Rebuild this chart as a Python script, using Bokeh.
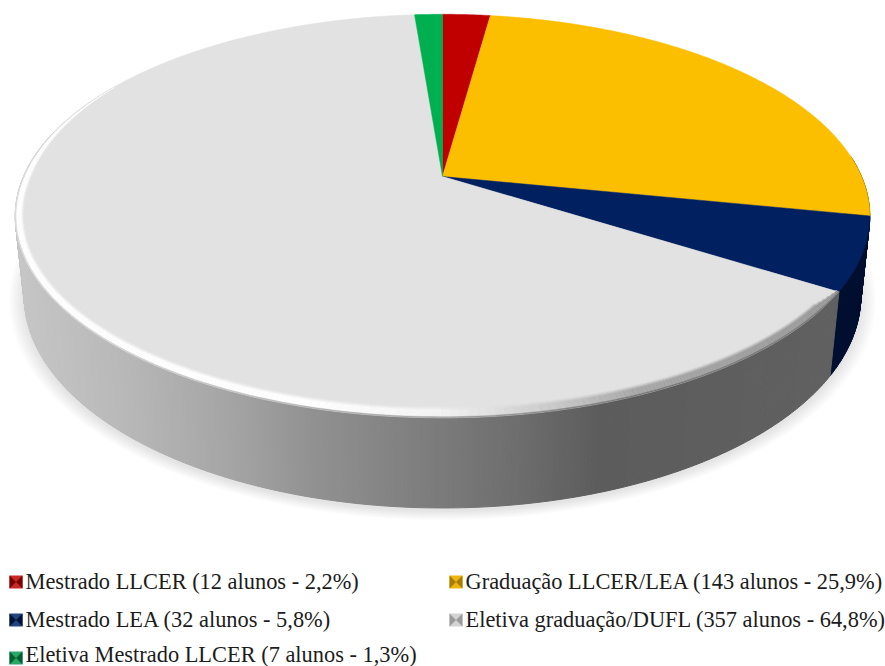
import numpy as np
from bokeh.plotting import figure
from bokeh.models import ColumnDataSource, Range1d
from bokeh.core.properties import value
from bokeh.embed import file_html
from bokeh.resources import INLINE

categories = ["Mestrado LLCER", "Graduação LLCER/LEA", "Mestrado LEA",
              "Eletiva graduação/DUFL", "Eletiva Mestrado LLCER"]
alunos = [12, 143, 32, 357, 7]
percent = ["2,2", "25,9", "5,8", "64,8", "1,3"]
top_colors = ["#C00000", "#FCBF00", "#002060", "#E2E2E2", "#00B050"]
side_colors = ["#600000", "#7F6000", "#000F30", None, "#005828"]
legend_dark = ["#7a0000", "#a87c00", "#001238", "#9a9a9a", "#006030"]
legend_light = ["#c82828", "#eeb410", "#24447f", "#d4d4d4", "#28a868"]
grey_stop_x = [15, 120, 230, 300, 420, 520, 600, 830]
grey_stop_v = [198, 184, 164, 147, 126, 109, 92, 96]

CX, CY = 442.0, 176.0
A, B, K = 419.0, 194.0, 0.196
CY2, A2, B2 = 255.0, 410.5, 204.0


def hexc(c):
    c = np.clip(np.round(c), 0, 255).astype(int)
    return "#%02x%02x%02x" % tuple(c)


def lerp(a, b, t):
    return a + (b - a) * t


def project(theta, cy=CY, a=A, b=B, k=K):
    u, v = np.sin(theta), np.cos(theta)
    w = 1 + k * v
    return CX + a * u / w, cy - b * v / w


vals = np.array(alunos, dtype=float)
edges = np.concatenate([[0], np.cumsum(vals)]) / vals.sum() * 2 * np.pi

p = figure(width=885, height=666, output_backend="svg", toolbar_location=None,
           x_range=Range1d(0, 885), y_range=Range1d(666, 0),
           min_border=0, background_fill_color="white", border_fill_color="white")
p.axis.visible = False
p.grid.visible = False
p.outline_line_color = None

# soft shadow beneath the pie
tt = np.linspace(0, 2 * np.pi, 240)
for s in np.linspace(1.036, 1.002, 9):
    x, y = project(tt, cy=CY2 + 3, a=A2, b=B2, k=0.192)
    p.patch(list(CX + (x - CX) * s), list(CY2 + 3 + (y - CY2 - 3) * s),
            fill_color="#808080", fill_alpha=0.024, line_color=None)


def slice_index(t):
    t = t % (2 * np.pi)
    return min(int(np.searchsorted(edges, t, side="right") - 1), len(vals) - 1)


# side wall
sx, sy, sc = [], [], []
step = np.radians(0.5)
for t0 in np.arange(np.radians(84), np.radians(284), step):
    t1 = t0 + step
    xa, ya = project(np.array([t0, t1]))
    xb, yb = project(np.array([t1, t0]), cy=CY2, a=A2, b=B2, k=0.192)
    i = slice_index((t0 + t1) / 2)
    if side_colors[i] is None:
        g = np.interp((xa[0] + xa[1]) / 2, grey_stop_x, grey_stop_v)
        c = hexc(np.array([g, g, g]))
    else:
        c = side_colors[i]
    sx.append(list(xa) + list(xb))
    sy.append(list(ya) + list(yb))
    sc.append(c)
p.patches("xs", "ys", source=ColumnDataSource(dict(xs=sx, ys=sy, c=sc)),
          fill_color="c", line_color="c", line_width=1)

# top face
for i in range(len(vals)):
    n = max(4, int(np.degrees(edges[i + 1] - edges[i]) * 2))
    th = np.linspace(edges[i], edges[i + 1], n)
    x, y = project(th)
    p.patch([CX] + list(x), [CY] + list(y), fill_color=top_colors[i],
            line_color=top_colors[i], line_width=0.5)

# bevel along the front edge of the top face
bands = np.linspace(0, 1, 11)
hi_x = [15, 100, 300, 430, 540, 640, 840]
hi_v = [255, 255, 255, 246, 205, 165, 150]
end_t = np.radians(300)
bx, by, bc = [], [], []
for t0 in np.arange(edges[3], end_t, np.radians(1.0)):
    t1 = t0 + np.radians(1.0)
    ex, ey = project(np.array([t0, t1]))
    mx = ex.mean()
    g = np.interp(mx, grey_stop_x, grey_stop_v)
    hv = np.interp(mx, hi_x, hi_v)
    fade = np.clip((end_t - t0) / np.radians(30), 0, 1)
    # the bevel tapers out at both of its ends
    taper = np.clip((t0 - edges[3]) / np.radians(5), 0, 1)
    for r0, r1 in zip(bands[:-1], bands[1:]):
        fx = (0.018 * fade + 0.002) * (0.3 + 0.7 * taper)
        fy = (0.044 * fade + 0.002) * (0.3 + 0.7 * taper)
        xo = CX + (ex - CX) * (1 - fx * (1 - r0))
        yo = CY + (ey - CY) * (1 - fy * (1 - r0))
        xi = CX + (ex - CX) * (1 - fx * (1 - r1))
        yi = CY + (ey - CY) * (1 - fy * (1 - r1))
        tm = (r0 + r1) / 2
        if tm < 0.35:
            v = lerp(226.0, hv, tm / 0.35)
        elif tm < 0.85:
            v = hv
        else:
            v = lerp(hv, g, (tm - 0.85) / 0.15)
        bx.append(list(xo) + list(xi[::-1]))
        by.append(list(yo) + list(yi[::-1]))
        bc.append(hexc(np.array([v, v, v])))
p.patches("xs", "ys", source=ColumnDataSource(dict(xs=bx, ys=by, c=bc)),
          fill_color="c", line_color="c", line_width=0.4)

# legend
order_rows = [(0, 8.5, 589, 581), (1, 448.5, 589, 581), (2, 8.5, 627, 619),
              (3, 448.5, 627, 619), (4, 8.5, 665, 654)]
for i, lx, base, ty in order_rows:
    l, t, sz = lx + 0.5, base - 14, 13
    p.patch([l, l + sz, l + sz, l], [t, t, t + sz, t + sz], fill_color=legend_light[i], line_color=None)
    m = sz / 2
    p.patch([l, l + m, l], [t, t + m, t + sz], fill_color=legend_dark[i], line_color=None)
    p.patch([l + sz, l + m, l + sz], [t, t + m, t + sz], fill_color=legend_dark[i], line_color=None)
    label = f"{categories[i]} ({alunos[i]} alunos - {percent[i]}%)"
    p.text([lx + 16.5], [ty], text=[label], text_font=value("Liberation Serif"),
           text_font_size="22.4px", text_color="#1c1c1c", text_baseline="alphabetic")

open("out.html", "w").write(file_html(p, INLINE))
